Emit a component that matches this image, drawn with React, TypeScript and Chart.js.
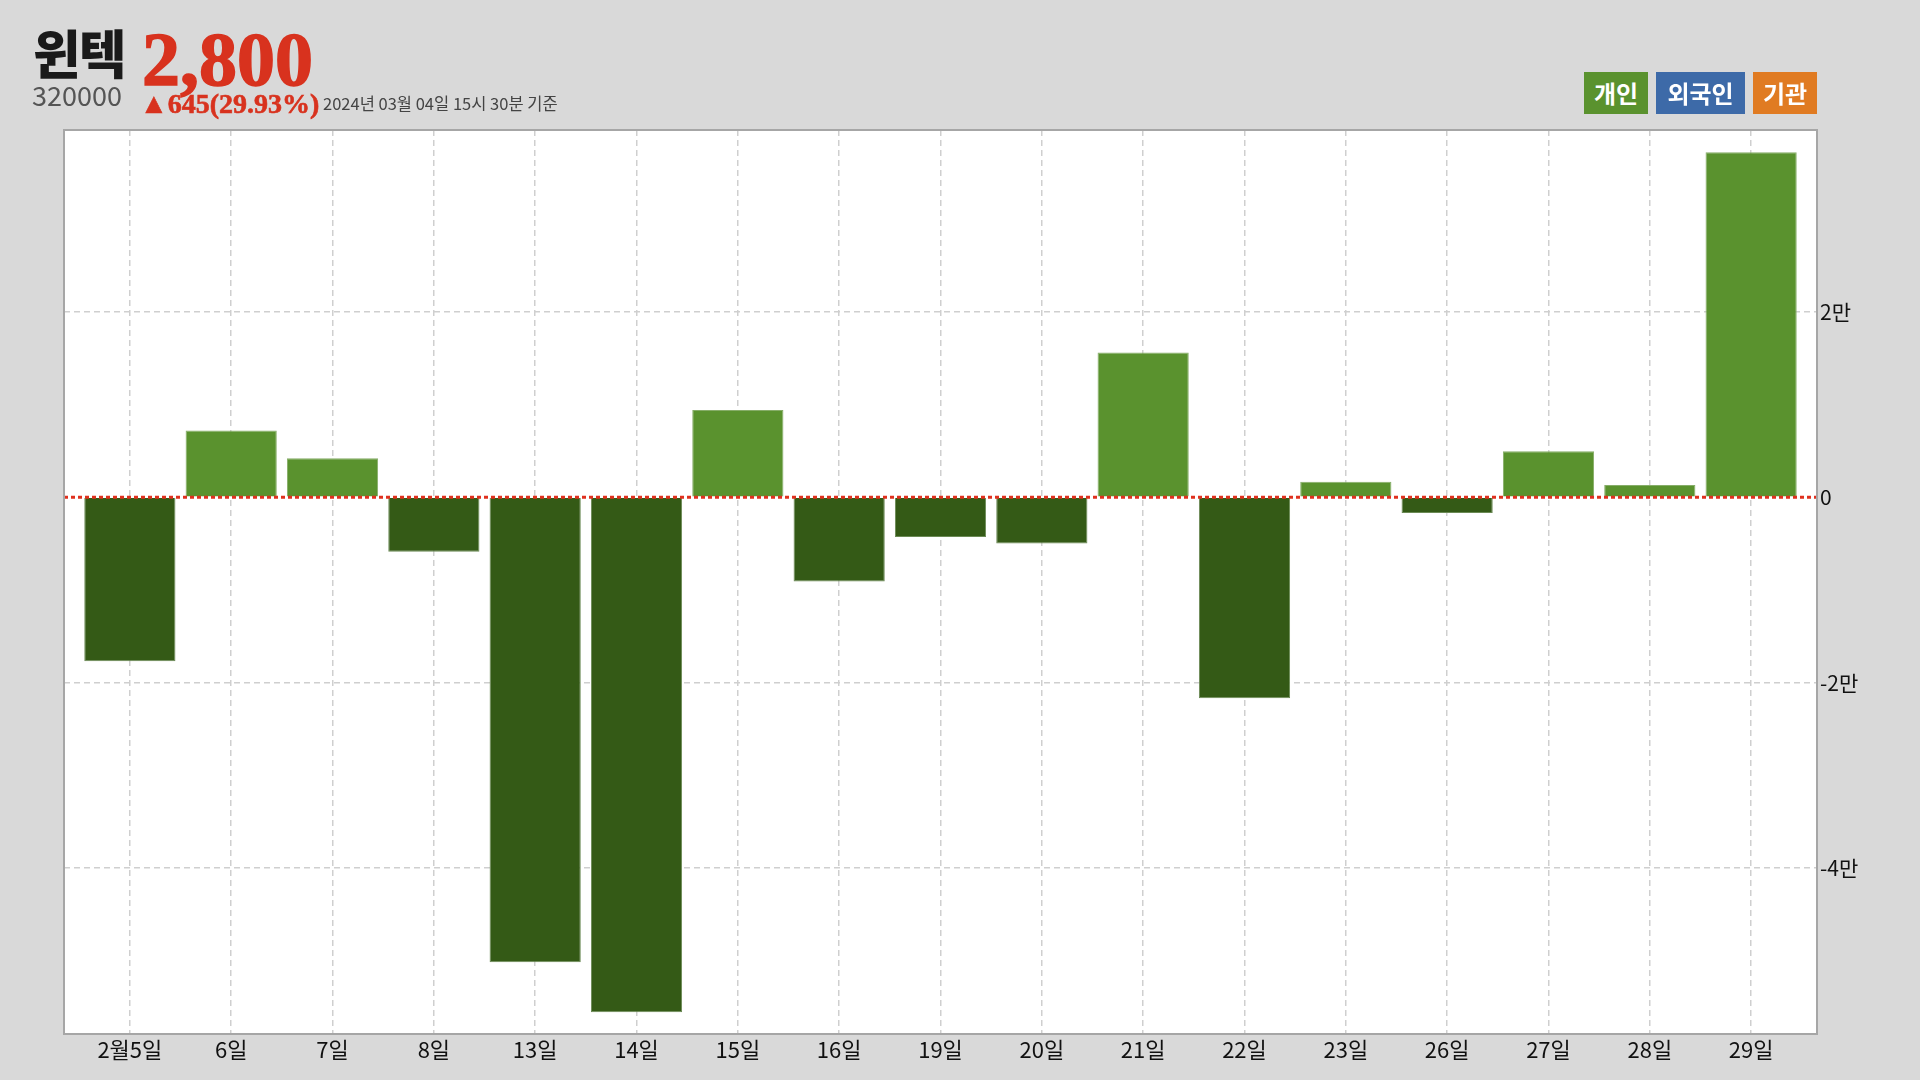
import React, { useEffect, useRef } from "react";
import { Chart, registerables } from "chart.js";

Chart.register(...registerables);

const categories = ["2월5일", "6일", "7일", "8일", "13일", "14일", "15일", "16일", "19일", "20일", "21일", "22일", "23일", "26일", "27일", "28일", "29일"];
const individualValues = [-17700, 7200, 4200, -5900, -50150, -55550, 9400, -9100, -4300, -5000, 15600, -21700, 1650, -1700, 4950, 1300, 37200];
const yTickValues = [-40000, -20000, 0, 20000];
const legendItems = ["개인", "외국인", "기관"];
const legendColors = ["#5a922e", "#3d6aa8", "#e07b22"];

const POS = "#5a922e";
const NEG = "#345a16";
const FONT = "'Noto Sans CJK KR', 'Noto Sans', sans-serif";

export default function App() {
  const ref = useRef<HTMLCanvasElement | null>(null);

  useEffect(() => {
    if (!ref.current) return;
    const framePlugin = {
      id: "frame",
      beforeDraw(chart: any) {
        const { ctx, chartArea: a } = chart;
        ctx.save();
        ctx.fillStyle = "#ffffff";
        ctx.fillRect(a.left, a.top, a.right - a.left, a.bottom - a.top);
        ctx.restore();
      },
      afterDatasetsDraw(chart: any) {
        const { ctx, chartArea: a } = chart;
        const y = chart.scales.y.getPixelForValue(0);
        ctx.save();
        ctx.strokeStyle = "#e0301e";
        ctx.lineWidth = 3;
        ctx.setLineDash([4, 3]);
        ctx.beginPath();
        ctx.moveTo(a.left, y);
        ctx.lineTo(a.right, y);
        ctx.stroke();
        ctx.restore();
      },
      afterDraw(chart: any) {
        const { ctx, chartArea: a } = chart;
        ctx.save();
        ctx.strokeStyle = "#a6a6a6";
        ctx.lineWidth = 2;
        ctx.strokeRect(a.left, a.top, a.right - a.left, a.bottom - a.top);
        ctx.restore();
      },
    };

    const chart = new Chart(ref.current, {
      type: "bar",
      data: {
        datasets: [
          {
            label: "개인",
            data: individualValues.map((v, i) => ({ x: i, y: v })),
            backgroundColor: individualValues.map((v) => (v >= 0 ? POS : NEG)),
            borderColor: individualValues.map((v) => (v >= 0 ? "#86ad68" : "#6b8a55")),
            borderWidth: 1,
            categoryPercentage: 1,
            barPercentage: 0.9,
          },
        ],
      },
      options: {
        responsive: false,
        animation: false,
        layout: { padding: { left: 64, top: 130, right: 0, bottom: 0 } },
        plugins: { legend: { display: false }, tooltip: { enabled: false } },
        scales: {
          x: {
            type: "linear",
            min: -0.65,
            max: categories.length - 1 + 0.65,
            offset: false,
            grid: {
              offset: false,
              color: "#cfcfcf",
              lineWidth: 1.5,
              drawTicks: false,
            },
            border: { display: false, dash: [6, 4] },
            ticks: {
              color: "#111111",
              font: { family: FONT, size: 22 },
              padding: 2,
              maxRotation: 0,
              autoSkip: false,
              callback: (v: any) => categories[Number(v)] ?? "",
            },
            afterBuildTicks(scale: any) {
              scale.ticks = categories.map((_, i) => ({ value: i }));
            },
            afterFit(scale: any) {
              scale.height = 1080 - 1034;
            },
          },
          y: {
            position: "right",
            min: -57900,
            max: 39600,
            grid: {
              color: (c: any) => (c.tick && c.tick.value === 0 ? "rgba(0,0,0,0)" : "#cfcfcf"),
              lineWidth: 1.5,
              drawTicks: false,
            },
            border: { display: false, dash: [6, 4] },
            ticks: {
              color: "#111111",
              font: { family: FONT, size: 21 },
              padding: 3,
              callback: (v: any) => (Number(v) === 0 ? "0" : Number(v) / 10000 + "만"),
            },
            afterBuildTicks(scale: any) {
              scale.ticks = yTickValues.map((v) => ({ value: v }));
            },
            afterFit(scale: any) {
              scale.width = 1920 - 1817;
            },
          },
        },
      },
      plugins: [framePlugin],
    } as any);
    return () => chart.destroy();
  }, []);

  return (
    <div style={{ position: "fixed", left: 0, top: 0, width: 1920, height: 1080, background: "#d9d9d9", overflow: "hidden" }}>
      <canvas ref={ref} width={1920} height={1080} style={{ position: "absolute", left: 0, top: 0, width: 1920, height: 1080 }} />
      <div style={{ position: "absolute", left: 33, top: 26, fontFamily: FONT, fontWeight: 900, fontSize: 52, lineHeight: 1, color: "#1a1a1a", letterSpacing: -2, whiteSpace: "nowrap" }}>윈텍</div>
      <div style={{ position: "absolute", left: 142, top: 21, fontFamily: "'Liberation Serif', serif", fontWeight: 700, fontSize: 76, lineHeight: 1, color: "#d8321e", whiteSpace: "nowrap", WebkitTextStroke: "1.5px #d8321e" }}>2,800</div>
      <div style={{ position: "absolute", left: 32, top: 81, fontFamily: FONT, fontSize: 27, lineHeight: 1, color: "#555555", whiteSpace: "nowrap" }}>320000</div>
      <div style={{ position: "absolute", left: 140, top: 90, fontFamily: "'Liberation Serif', serif", fontWeight: 700, fontSize: 28, lineHeight: 1, color: "#d8321e", whiteSpace: "nowrap", WebkitTextStroke: "0.6px #d8321e" }}>▲645(29.93%)</div>
      <div style={{ position: "absolute", left: 323, top: 95, fontFamily: FONT, fontSize: 16.5, lineHeight: 1, color: "#444444", whiteSpace: "nowrap" }}>2024년 03월 04일 15시 30분 기준</div>
      {legendItems.map((t, i) => {
        const lefts = [1584, 1656, 1753];
        const widths = [64, 89, 64];
        return (
          <div key={t} style={{ position: "absolute", left: lefts[i], top: 72, width: widths[i], height: 42, background: legendColors[i], color: "#ffffff", fontFamily: FONT, fontWeight: 700, fontSize: 24, lineHeight: "42px", textAlign: "center", whiteSpace: "nowrap" }}>{t}</div>
        );
      })}
    </div>
  );
}
